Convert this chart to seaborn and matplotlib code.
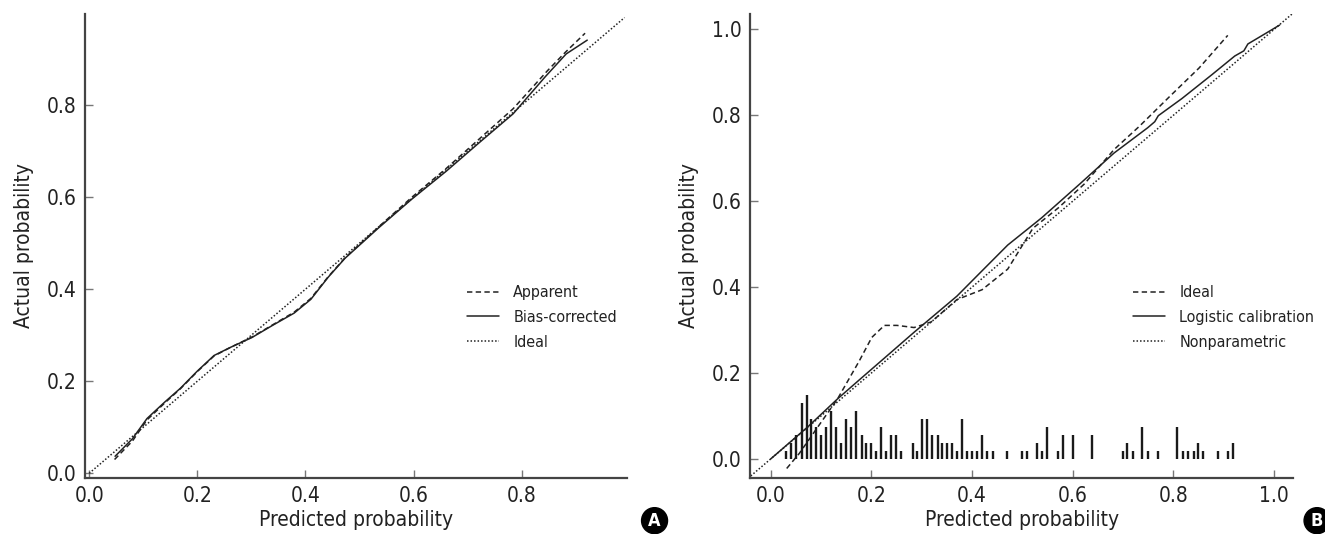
import numpy as np
import pandas as pd
import matplotlib
matplotlib.use('Agg')
import matplotlib.pyplot as plt
import seaborn as sns

# ── Data: panel A ─────────────────────────────────────────────────────────────
a_ideal_x = [0.0, 0.99]
a_ideal_y = [0.0, 0.99]

a_bias_x = [0.048, 0.08, 0.107, 0.14, 0.169, 0.200, 0.231, 0.262, 0.301, 0.340, 0.379,
            0.410, 0.442, 0.473, 0.535, 0.597, 0.660, 0.722, 0.784, 0.843, 0.882, 0.921]
a_bias_y = [0.037, 0.075, 0.119, 0.155, 0.185, 0.222, 0.256, 0.274, 0.295, 0.322, 0.348,
            0.378, 0.426, 0.467, 0.533, 0.596, 0.656, 0.719, 0.781, 0.861, 0.911, 0.941]

a_app_x = [0.047, 0.08, 0.107, 0.14, 0.169, 0.200, 0.231, 0.262, 0.301, 0.340, 0.379,
           0.410, 0.442, 0.473, 0.535, 0.597, 0.660, 0.722, 0.784, 0.847, 0.880, 0.917]
a_app_y = [0.030, 0.070, 0.116, 0.153, 0.184, 0.221, 0.255, 0.274, 0.296, 0.323, 0.350,
           0.380, 0.427, 0.468, 0.535, 0.600, 0.662, 0.727, 0.792, 0.874, 0.914, 0.956]

# ── Data: panel B ─────────────────────────────────────────────────────────────
b_ideal_x = [0.032, 0.057, 0.100, 0.133, 0.176, 0.201, 0.226, 0.251, 0.285, 0.319, 0.370,
             0.420, 0.471, 0.521, 0.572, 0.623, 0.682, 0.733, 0.792, 0.851, 0.908]
b_ideal_y = [-0.022, 0.013, 0.085, 0.140, 0.228, 0.283, 0.311, 0.311, 0.306, 0.319, 0.371,
             0.394, 0.442, 0.537, 0.585, 0.640, 0.720, 0.775, 0.843, 0.910, 0.986]

b_logit_x = [0.0, 0.074, 0.133, 0.176, 0.235, 0.285, 0.370, 0.420, 0.471, 0.538, 0.614,
             0.682, 0.749, 0.763, 0.770, 0.817, 0.876, 0.922, 0.940, 0.948, 0.994, 1.011]
b_logit_y = [0.0, 0.075, 0.140, 0.184, 0.244, 0.295, 0.379, 0.438, 0.498, 0.561, 0.640,
             0.712, 0.771, 0.785, 0.799, 0.839, 0.894, 0.938, 0.950, 0.966, 0.998, 1.010]

b_nonpar_x = [-0.05, 1.05]
b_nonpar_y = [-0.05, 1.05]

# distribution of predicted probabilities (spike position, count)
spike_x = [0.030, 0.041, 0.051, 0.062, 0.072, 0.081, 0.091, 0.100, 0.111, 0.120, 0.130,
           0.139, 0.150, 0.160, 0.170, 0.181, 0.189, 0.199, 0.209, 0.219, 0.230, 0.240,
           0.250, 0.260, 0.283, 0.290, 0.301, 0.310, 0.321, 0.332, 0.341, 0.351, 0.360,
           0.370, 0.380, 0.391, 0.400, 0.410, 0.420, 0.430, 0.441, 0.469, 0.499, 0.510,
           0.530, 0.540, 0.549, 0.570, 0.581, 0.600, 0.639, 0.699, 0.707, 0.719, 0.738,
           0.749, 0.770, 0.808, 0.819, 0.830, 0.840, 0.849, 0.859, 0.889, 0.908, 0.918]
spike_n = [1, 2, 3, 7, 8, 5, 4, 3, 4, 6, 4,
           2, 5, 4, 6, 3, 2, 2, 1, 4, 1, 3,
           3, 1, 2, 1, 5, 5, 3, 3, 2, 2, 2,
           1, 5, 1, 1, 1, 3, 1, 1, 1, 1, 1,
           2, 1, 4, 1, 3, 3, 3, 1, 2, 1, 4,
           1, 1, 4, 1, 1, 1, 2, 1, 1, 1, 2]

# ── Style ─────────────────────────────────────────────────────────────────────
sns.set_style('ticks')
plt.rcParams['font.family'] = ['DejaVu Sans']
plt.rcParams['font.stretch'] = 'condensed'

DASH = (0, (3.5, 2.2))
DOT = (0, (1, 1.3))
LC = '#222222'

fig = plt.figure(figsize=(13.25, 5.34), dpi=100)
ax_a = fig.add_axes([0.064, 0.105, 0.409, 0.869])
ax_b = fig.add_axes([0.566, 0.105, 0.410, 0.869])


def style_axes(ax):
    sns.despine(ax=ax)
    for s in ['left', 'bottom']:
        ax.spines[s].set_color('#444444')
        ax.spines[s].set_linewidth(1.6)
    ax.tick_params(direction='in', length=6, width=1, color='#777777',
                   labelsize=15, labelcolor='#222222', pad=6)
    ax.set_xlabel('Predicted probability', fontsize=15, color='#222222', labelpad=3)
    ax.set_ylabel('Actual probability', fontsize=15, color='#222222', labelpad=9)
    ax.xaxis.set_major_formatter(matplotlib.ticker.FormatStrFormatter('%.1f'))
    ax.yaxis.set_major_formatter(matplotlib.ticker.FormatStrFormatter('%.1f'))


def line(ax, x, y, ls, label):
    df = pd.DataFrame({'x': x, 'y': y})
    sns.lineplot(data=df, x='x', y='y', ax=ax, sort=False, estimator=None,
                 color=LC, linewidth=1.1, linestyle=ls, label=label)


# ── Panel A ───────────────────────────────────────────────────────────────────
line(ax_a, a_app_x, a_app_y, DASH, 'Apparent')
line(ax_a, a_bias_x, a_bias_y, '-', 'Bias-corrected')
line(ax_a, a_ideal_x, a_ideal_y, DOT, 'Ideal')
ax_a.set_xlim(-0.008, 0.994)
ax_a.set_ylim(-0.01, 0.998)
ax_a.set_xticks([0.0, 0.2, 0.4, 0.6, 0.8])
ax_a.set_yticks([0.0, 0.2, 0.4, 0.6, 0.8])
style_axes(ax_a)

# ── Panel B ───────────────────────────────────────────────────────────────────
line(ax_b, b_ideal_x, b_ideal_y, DASH, 'Ideal')
line(ax_b, b_logit_x, b_logit_y, '-', 'Logistic calibration')
line(ax_b, b_nonpar_x, b_nonpar_y, DOT, 'Nonparametric')
spike_h = np.array(spike_n) * 0.0185
ax_b.vlines(spike_x, 0, spike_h, color='#1a1a1a', linewidth=1.7)
ax_b.set_xlim(-0.041, 1.038)
ax_b.set_ylim(-0.044, 1.036)
ax_b.set_xticks([0.0, 0.2, 0.4, 0.6, 0.8, 1.0])
ax_b.set_yticks([0.0, 0.2, 0.4, 0.6, 0.8, 1.0])
style_axes(ax_b)

for ax in (ax_a, ax_b):
    ax.legend(loc='upper left', bbox_to_anchor=(0.705, 0.415), frameon=False,
              fontsize=11.5, handlelength=2.0, handletextpad=0.9, labelspacing=0.6,
              borderpad=0, borderaxespad=0, labelcolor='#222222')

# panel letters
for xf, letter in [(0.494, 'A'), (0.994, 'B')]:
    fig.text(xf, 0.025, letter, color='white', fontsize=13, fontweight='bold',
             ha='center', va='center',
             bbox=dict(boxstyle='circle,pad=0.22', fc='black', ec='black'))

fig.savefig('out.png', dpi=100)
plt.close(fig)
